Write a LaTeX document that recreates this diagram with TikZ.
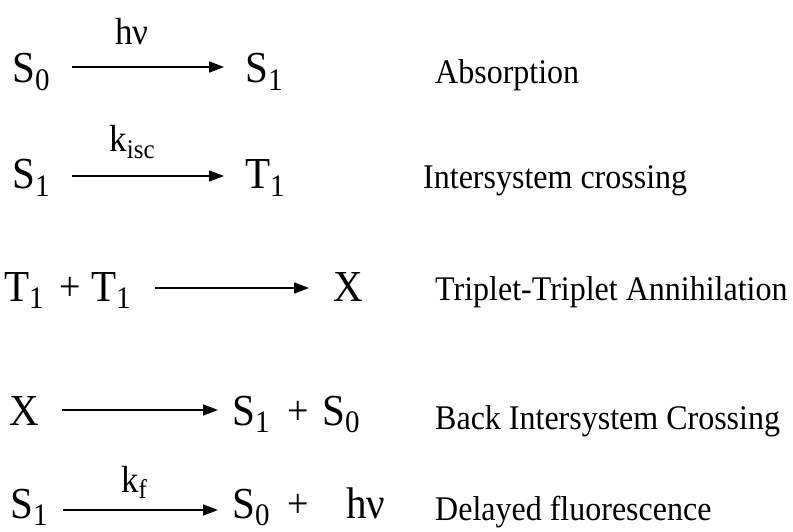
\documentclass[tikz,border=0pt]{standalone}
\usepackage{fontspec}
\usepackage{graphicx}
\setmainfont{Liberation Serif}
\usetikzlibrary{arrows.meta}
\newcommand{\mysub}[1]{\raisebox{-0.16em}[0pt][0pt]{\fontsize{29}{29}\selectfont #1}}
\newcommand{\ratesub}[1]{\raisebox{-0.18em}[0pt][0pt]{\fontsize{25}{25}\selectfont #1}}
\newcommand{\tallA}[1]{\scalebox{1}[1.08]{#1}}
\tikzset{
  species/.style={anchor=base west, inner sep=0pt, font=\fontsize{41}{41}\selectfont},
  plus/.style={anchor=base, inner sep=0pt, font=\fontsize{38}{38}\selectfont},
  proc/.style={anchor=base west, inner sep=0pt, font=\fontsize{32}{32}\selectfont},
  rate/.style={anchor=base, inner sep=0pt, font=\fontsize{35}{35}\selectfont},
  rxn/.style={line width=1.7pt, -{Triangle[length=15pt,width=11pt]}},
}
\begin{document}
\begin{tikzpicture}[x=1pt,y=-1pt]
\useasboundingbox (0,0) rectangle (793,532);
% Row 1
\node[species] (r1a) at (12,83) {\tallA{S\mysub{0}}};
\node[species] (r1b) at (245,83) {\tallA{S\mysub{1}}};
\node[rate] (r1k) at (132,45) {\tallA{hν}};
\coordinate (r1s) at (72,67);
\coordinate (r1e) at (224,67);
\draw[rxn] (r1s) -- (r1e);
\node[proc] (r1p) at (435,84) {\tallA{Absorption}};
% Row 2
\node[species] (r2a) at (12,189) {\tallA{S\mysub{1}}};
\node[species] (r2b) at (245,189) {\tallA{T\mysub{1}}};
\node[rate] (r2k) at (132,152) {\tallA{k\ratesub{isc}}};
\coordinate (r2s) at (72,176);
\coordinate (r2e) at (224,176);
\draw[rxn] (r2s) -- (r2e);
\node[proc] (r2p) at (423,189) {\tallA{Intersystem crossing}};
% Row 3
\node[species] (r3a) at (4,301) {\tallA{T\mysub{1}}};
\node[plus] (r3p1) at (70,300) {\tallA{+}};
\node[species] (r3c) at (91,301) {\tallA{T\mysub{1}}};
\node[species] (r3b) at (333,301) {\tallA{X}};
\coordinate (r3s) at (155,288);
\coordinate (r3e) at (309,288);
\draw[rxn] (r3s) -- (r3e);
\node[proc] (r3p) at (435,300) {\tallA{Triplet-Triplet Annihilation}};
% Row 4
\node[species] (r4a) at (9,425) {\tallA{X}};
\node[species] (r4b) at (232,425) {\tallA{S\mysub{1}}};
\node[plus] (r4p1) at (298,424) {\tallA{+}};
\node[species] (r4c) at (322,425) {\tallA{S\mysub{0}}};
\coordinate (r4s) at (62,410);
\coordinate (r4e) at (218,410);
\draw[rxn] (r4s) -- (r4e);
\node[proc] (r4p) at (435,429) {\tallA{Back Intersystem Crossing}};
% Row 5
\node[species] (r5a) at (10,518) {\tallA{S\mysub{1}}};
\node[species] (r5b) at (232,518) {\tallA{S\mysub{0}}};
\node[plus] (r5p1) at (298,517) {\tallA{+}};
\node[species] (r5c) at (346,518) {\tallA{hν}};
\node[rate] (r5k) at (134,492) {\tallA{k\ratesub{f}}};
\coordinate (r5s) at (63,510);
\coordinate (r5e) at (218,510);
\draw[rxn] (r5s) -- (r5e);
\node[proc] (r5p) at (435,520) {\tallA{Delayed fluorescence}};
\end{tikzpicture}
\end{document}
